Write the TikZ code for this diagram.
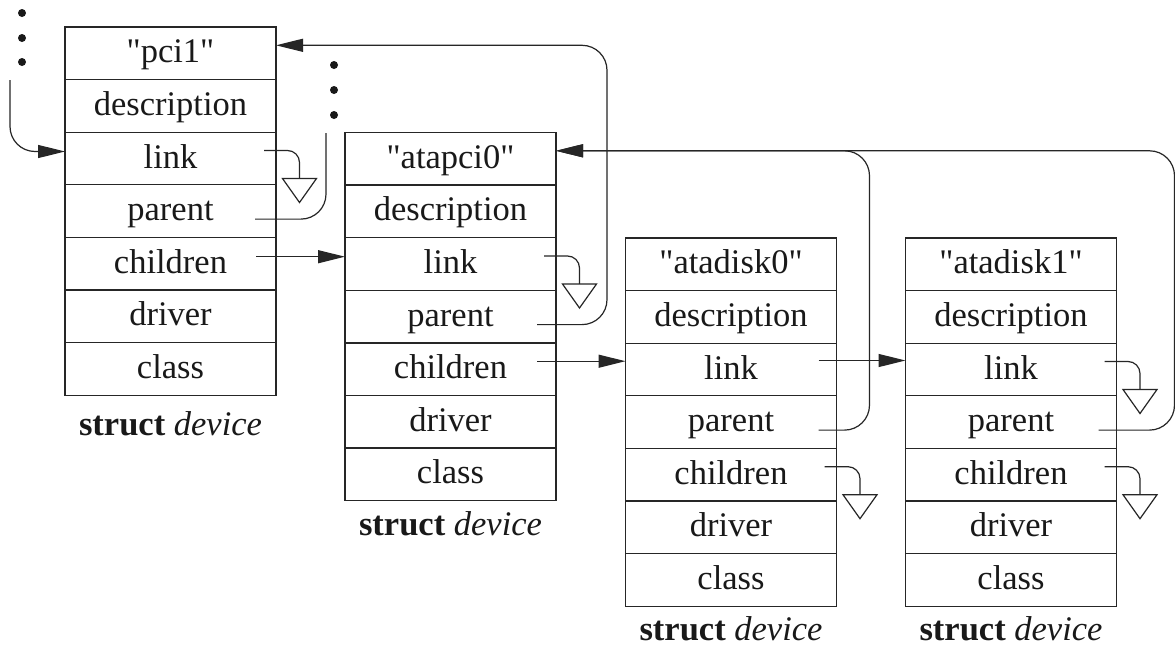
\documentclass[tikz,border=0pt]{standalone}
\usepackage{fontspec}
\setmainfont{Liberation Serif}[Ligatures=TeXOff]
\usetikzlibrary{arrows.meta,calc,positioning}
\tikzset{
  row/.style={draw=black!85, line width=1.3pt, minimum width=211pt, minimum height=52.6pt,
    inner sep=0pt, outer sep=0pt, text height=25pt, text depth=6pt,
    font=\fontsize{34.5}{40}\selectfont, text=black!90},
  lbl/.style={font=\fontsize{34.5}{40}\selectfont, inner sep=0pt, text=black!90},
  conn/.style={draw=black!85, line width=1.2pt},
  arr/.style={-{Triangle[length=27pt,width=13pt]}},
  gnd/.style={draw=black!85, line width=1.2pt, fill=white, line join=miter},
}
\newcommand{\devstruct}[5]{%
  \node[row] (#1-name) at (#2,#3+26.3) {#4};
  \node[row, below=0pt of #1-name] (#1-desc) {description};
  \node[row, below=0pt of #1-desc] (#1-link) {link};
  \node[row, below=0pt of #1-link] (#1-parent) {parent};
  \node[row, below=0pt of #1-parent] (#1-children) {children};
  \node[row, below=0pt of #1-children] (#1-driver) {driver};
  \node[row, below=0pt of #1-driver] (#1-class) {class};
  \node[lbl] (#1-label) at ($(#1-class.south)+(0,#5)$) {\textbf{struct} \textit{device}};
}
\newcommand{\nullptr}[1]{%
  \coordinate (#1-o) at ($(#1.east)+(-12,-8)$);
  \coordinate (#1-g) at ($(#1.east)+(23.5,20)$);
  \draw[conn, rounded corners=12pt] (#1-o) -| (#1-g);
  \draw[gnd] (#1-g) +(-17,0) -- +(17,0) -- +(0,24) -- cycle;
}
\begin{document}
\begin{tikzpicture}[x=1pt,y=-1pt]
\useasboundingbox (0,0) rectangle (1175,648);
\fill[white] (0,0) rectangle (1175,648);

\devstruct{s1}{170.5}{27}{"pci1"}{29}
\devstruct{s2}{450.5}{132.5}{"atapci0"}{23}
\devstruct{s3}{731}{238}{"atadisk0"}{22.5}
\devstruct{s4}{1011}{238}{"atadisk1"}{22.5}

% dots (elided siblings / parents)
\foreach \yy in {13,38,62} \fill[black!90] (22,\yy) circle (4pt);
\foreach \yy in {65,90,115} \fill[black!90] (334,\yy) circle (4pt);

% incoming link into pci1
\coordinate (in-top) at (10,80);
\coordinate (s1-lin) at ($(s1-link.west)+(0,-7)$);
\draw[conn, arr, rounded corners=25pt] (in-top) |- (s1-lin);

% null pointers
\nullptr{s1-link}
\nullptr{s2-link}
\nullptr{s3-children}
\nullptr{s4-link}
\nullptr{s4-children}

% children / link arrows
\coordinate (s1-children-o) at ($(s1-children.east)+(-20,-7)$);
\draw[conn, arr] (s1-children-o) -- (s1-children-o -| s2-link.west);
\coordinate (s2-children-o) at ($(s2-children.east)+(-19,-8)$);
\draw[conn, arr] (s2-children-o) -- (s2-children-o -| s3-link.west);
\coordinate (s3-link-o) at ($(s3-link.east)+(-18,-9)$);
\draw[conn, arr] (s3-link-o) -- (s3-link-o -| s4-link.west);

% parent pointers
\coordinate (s1-parent-o) at ($(s1-parent.east)+(-21,8)$);
\coordinate (s1-up) at (326,133);
\draw[conn, rounded corners=25pt] (s1-parent-o) -| (s1-up);

\coordinate (s1-in) at ($(s1-name.east)+(0,-8)$);
\coordinate (s2-parent-o) at ($(s2-parent.east)+(-19,8)$);
\coordinate (s2-corner) at ($(s2-parent.east)+(51,0)$);
\draw[conn, arr, rounded corners=25pt] (s2-parent-o) -| (s2-corner |- s1-in) -- (s1-in);

\coordinate (s2-in) at ($(s2-name.east)+(0,-8)$);
\coordinate (s3-parent-o) at ($(s3-parent.east)+(-18,8)$);
\coordinate (s3-corner) at ($(s3-parent.east)+(33,0)$);
\draw[conn, arr, rounded corners=25pt] (s3-parent-o) -| (s3-corner |- s2-in) -- (s2-in);

\coordinate (s4-parent-o) at ($(s4-parent.east)+(-18,8)$);
\coordinate (s4-corner) at ($(s4-parent.east)+(58,0)$);
\draw[conn, arr, rounded corners=25pt] (s4-parent-o) -| (s4-corner |- s2-in) -- (s2-in);
\end{tikzpicture}
\end{document}
